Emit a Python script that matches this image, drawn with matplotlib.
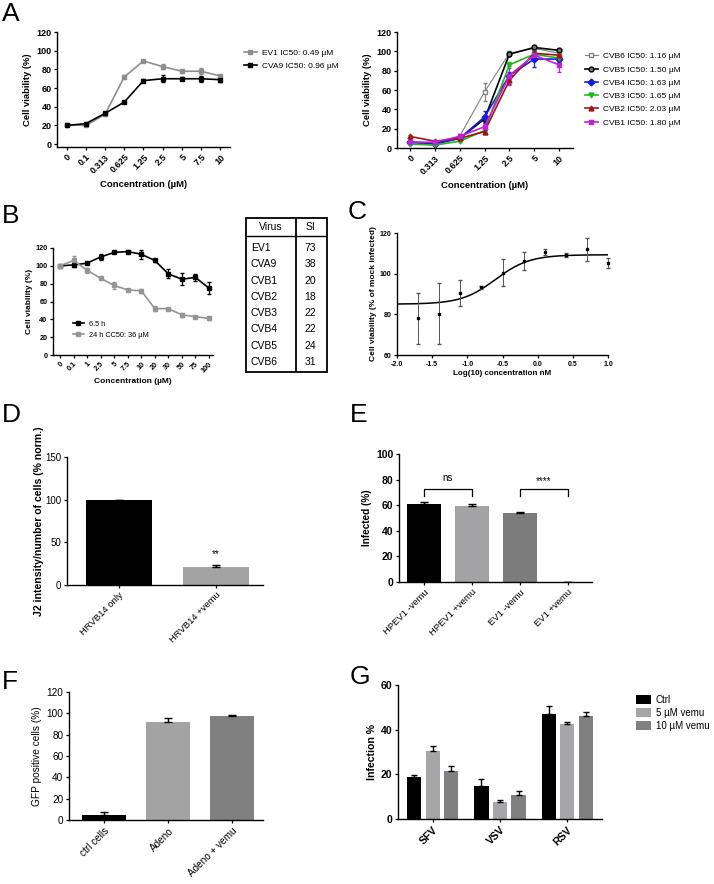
import numpy as np
import matplotlib
matplotlib.use("Agg")
import matplotlib.pyplot as plt
from matplotlib.lines import Line2D

plt.rcParams['font.family'] = ['Liberation Sans', 'DejaVu Sans']
plt.rcParams['axes.unicode_minus'] = False
plt.rcParams['axes.linewidth'] = 1.0

# ---- A (left): EV1 / CVA9
conc_a1 = ['0', '0.1', '0.313', '0.625', '1.25', '2.5', '5', '7.5', '10']
ev1 = [21, 20, 32, 72, 89, 83, 78, 78, 73]
ev1_err = [1, 1, 1.5, 2, 1, 3, 1.5, 3, 1.5]
cva9 = [20, 22, 33, 45, 68, 70, 70, 70, 69]
cva9_err = [1, 1, 1, 1, 1.5, 4, 1.5, 3, 3]

# ---- A (right): CVB1-6
conc_a2 = ['0', '0.313', '0.625', '1.25', '2.5', '5', '10']
cvb6 = [6, 5, 12, 58, 98, 103, 98]
cvb6_err = [1, 1, 1, 9, 2, 1, 2]
cvb5 = [6, 5, 10, 30, 97, 104, 101]
cvb5_err = [1, 1, 1, 3, 2, 1, 1]
cvb4 = [6, 4, 10, 32, 75, 92, 92]
cvb4_err = [1, 1, 1, 6, 4, 8, 3]
cvb3 = [4, 3, 7, 18, 86, 97, 93]
cvb3_err = [1, 1, 1, 2, 3, 1, 2]
cvb2 = [12, 7, 10, 17, 70, 98, 96]
cvb2_err = [1, 1, 1, 2, 4, 1, 2]
cvb1 = [6, 6, 12, 22, 75, 96, 86]
cvb1_err = [1, 1, 2, 3, 10, 3, 7]
cvb_labels = ['CVB6 IC50: 1.16 µM', 'CVB5 IC50: 1.50 µM', 'CVB4 IC50: 1.63 µM',
              'CVB3 IC50: 1.65 µM', 'CVB2 IC50: 2.03 µM', 'CVB1 IC50: 1.80 µM']

# ---- B: toxicity
conc_b = ['0', '0.1', '1', '2.5', '5', '7.5', '10', '20', '30', '50', '75', '100']
h65 = [100, 101, 103, 110, 115, 116, 113, 106, 91, 85, 87, 75]
h65_err = [1, 2, 1, 3, 1, 2, 5, 2, 5, 7, 4, 7]
h24 = [100, 106, 95, 86, 78, 73, 72, 52, 52, 45, 43, 41]
h24_err = [1, 5, 3, 1, 4, 1, 2, 3, 1, 2, 1, 2]

si_virus = ['EV1', 'CVA9', 'CVB1', 'CVB2', 'CVB3', 'CVB4', 'CVB5', 'CVB6']
si_value = [73, 38, 20, 18, 22, 22, 24, 31]

# ---- C: dose response
log_conc = [-1.7, -1.4, -1.1, -0.8, -0.5, -0.2, 0.1, 0.4, 0.7, 1.0]
viab_c = [78, 80.4, 90.5, 93.2, 100.4, 106.3, 110.7, 109.2, 112, 105.2]
viab_c_err = [12.7, 15, 6.2, 0.6, 6.6, 4.4, 1.5, 1.2, 5.7, 2.3]
fit_bottom, fit_top, fit_logec50, fit_hill = 85.0, 109.3, -0.6, 1.8

# ---- D
d_labels = ['HRVB14 only', 'HRVB14 +vemu']
d_vals = [100, 21]
d_err = [0, 3]

# ---- E
e_labels = ['HPEV1 -vemu', 'HPEV1 +vemu', 'EV1 -vemu', 'EV1 +vemu']
e_vals = [60.7, 59.6, 54.2, 0]
e_err = [1.5, 1.4, 0.5, 0]

# ---- F
f_labels = ['ctrl cells', 'Adeno', 'Adeno + vemu']
f_vals = [4.5, 91.5, 97.8]
f_err = [3, 4.4, 0.5]

# ---- G
g_groups = ['SFV', 'VSV', 'RSV']
g_series = ['Ctrl', '5 µM vemu', '10 µM vemu']
g_ctrl = [18.6, 14.7, 47.2]
g_ctrl_err = [1, 3, 3.2]
g_5 = [30.5, 7.8, 42.6]
g_5_err = [2.3, 0.9, 0.9]
g_10 = [21.7, 10.8, 45.9]
g_10_err = [1.9, 1.7, 2.2]

W, H = 714, 884
fig = plt.figure(figsize=(W / 100, H / 100), dpi=100)


def box(x0, x1, ytop, ybot):
    return fig.add_axes([x0 / W, 1 - ybot / H, (x1 - x0) / W, (ybot - ytop) / H])


def style(ax, size=6.5, bold=True):
    for s in ['top', 'right']:
        ax.spines[s].set_visible(False)
    ax.tick_params(direction='out', length=2.5, width=0.9, labelsize=size, pad=1.5)
    if bold:
        for t in ax.get_yticklabels():
            t.set_fontweight('bold')


def rot_labels(ax, labels, size=6.5, bold=True):
    ax.set_xticks(range(len(labels)))
    ax.set_xticklabels(labels, rotation=45, ha='right', rotation_mode='anchor',
                       fontsize=size, fontweight='bold' if bold else 'normal')


def letter(x, y, s):
    fig.text(x / W, 1 - y / H, s, fontsize=19, va='center', ha='left')


def handle(c, m, fc=None):
    return Line2D([], [], color=c, marker=m, mfc=fc or c, mec=c, ms=3.5, lw=1.2)


# ===== A left
ax = box(57, 230, 32, 147)
x = np.arange(len(conc_a1))
ax.errorbar(x, ev1, yerr=ev1_err, color='#8e8e8e', marker='s', ms=3.5, lw=1.2,
            capsize=1.5, elinewidth=0.9)
ax.errorbar(x, cva9, yerr=cva9_err, color='black', marker='s', ms=3.5, lw=1.2,
            capsize=1.5, elinewidth=0.9)
ax.set_xlim(-0.5, 8.5)
ax.set_ylim(-3, 120)
ax.set_yticks(range(0, 121, 20))
style(ax)
rot_labels(ax, conc_a1)
ax.set_xlabel('Concentration (µM)', labelpad=4, fontsize=6.8, fontweight='bold')
ax.set_ylabel('Cell viability (%)', labelpad=3, fontsize=6.8, fontweight='bold')
ax.legend([handle('#8e8e8e', 's'), handle('black', 's')],
          ['EV1 IC50: 0.49 µM', 'CVA9 IC50: 0.96 µM'],
          loc='upper left', bbox_to_anchor=(236 / W, 1 - 42 / H),
          bbox_transform=fig.transFigure, frameon=False, fontsize=6,
          handlelength=1.6, handletextpad=0.6, labelspacing=0.6)

# ===== A right
ax = box(397, 573, 32, 148)
x = np.arange(len(conc_a2))
specs = [
    (cvb6, cvb6_err, '#808080', 's', 'white', 0.8),
    (cvb5, cvb5_err, 'black', 'o', '#777777', 1.2),
    (cvb4, cvb4_err, '#1a1ae0', 'D', '#1a1ae0', 1.2),
    (cvb3, cvb3_err, '#22b522', 'v', '#22b522', 1.2),
    (cvb2, cvb2_err, '#a01414', '^', '#a01414', 1.2),
    (cvb1, cvb1_err, '#c21fdc', 's', '#c21fdc', 1.2),
]
hs = []
for vals, err, c, m, fc, lw in specs:
    ax.errorbar(x, vals, yerr=err, color=c, marker=m, mfc=fc, mec=c, ms=3.5,
                lw=lw, capsize=1.5, elinewidth=0.9)
    h = handle(c, m, fc)
    h.set_linewidth(lw)
    hs.append(h)
ax.set_xlim(-0.52, 6.56)
ax.set_ylim(0, 120)
ax.set_yticks(range(0, 121, 20))
style(ax)
rot_labels(ax, conc_a2)
ax.set_xlabel('Concentration (µM)', labelpad=4, fontsize=6.8, fontweight='bold')
ax.set_ylabel('Cell viability (%)', labelpad=3, fontsize=6.8, fontweight='bold')
ax.legend(hs, cvb_labels, loc='upper left', bbox_to_anchor=(577 / W, 1 - 45 / H),
          bbox_transform=fig.transFigure, frameon=False, fontsize=6,
          handlelength=1.6, handletextpad=0.6, labelspacing=0.65)

# ===== B
ax = box(53, 213, 248, 355)
x = np.arange(len(conc_b))
ax.errorbar(x, h65, yerr=h65_err, color='black', marker='s', ms=3, lw=1.2,
            capsize=1.5, elinewidth=0.9)
ax.errorbar(x, h24, yerr=h24_err, color='#959595', marker='s', ms=3, lw=1.2,
            capsize=1.5, elinewidth=0.9)
ax.set_xlim(-0.52, 11.3)
ax.set_ylim(0, 120)
ax.set_yticks(range(0, 121, 20))
style(ax, size=5.2)
rot_labels(ax, conc_b, size=5.2)
ax.set_xlabel('Concentration (µM)', labelpad=3, fontsize=6, fontweight='bold')
ax.set_ylabel('Cell viability (%)', labelpad=2, fontsize=6, fontweight='bold')
ax.legend([handle('black', 's'), handle('#959595', 's')], ['6.5 h', '24 h CC50: 36 µM'],
          loc='upper left', bbox_to_anchor=(66 / W, 1 - 314 / H),
          bbox_transform=fig.transFigure, frameon=False, fontsize=5.3,
          handlelength=1.5, handletextpad=0.7, labelspacing=0.5)

# table of SI values
tb = box(246, 327, 218, 372)
tb.set_xlim(0, 1)
tb.set_ylim(0, 1)
tb.axis('off')
tb.add_patch(plt.Rectangle((0, 0), 1, 1, fill=False, lw=1.3, transform=tb.transAxes, clip_on=False))
tb.plot([0.617, 0.617], [0, 1], color='black', lw=1.3)
tb.plot([0, 1], [0.883, 0.883], color='black', lw=1.0)
tb.text(0.30, 0.942, 'Virus', fontsize=7.5, ha='center', va='center')
tb.text(0.79, 0.942, 'SI', fontsize=7.5, ha='center', va='center')
rows_y = np.linspace(0.805, 0.065, len(si_virus))
for yy, v, s in zip(rows_y, si_virus, si_value):
    tb.text(0.06, yy, v, fontsize=7.5, ha='left', va='center')
    tb.text(0.79, yy, str(s), fontsize=7.5, ha='center', va='center')

# ===== C
ax = box(397, 608, 233, 355)
xx = np.linspace(-2, 1, 300)
ax.plot(xx, fit_bottom + (fit_top - fit_bottom) / (1 + 10 ** ((fit_logec50 - xx) * fit_hill)),
        color='black', lw=1.1)
eb = ax.errorbar(log_conc, viab_c, yerr=viab_c_err, fmt='s', color='black', ms=1.5,
                 ecolor='#555555', elinewidth=0.7, capsize=1.5)
for art in eb.get_children():
    art.set_clip_on(False)
ax.set_xlim(-2, 1)
ax.set_ylim(60, 120)
ax.set_xticks(np.arange(-2, 1.01, 0.5))
ax.set_xticklabels(['%.1f' % v for v in np.arange(-2, 1.01, 0.5)], fontweight='bold')
ax.set_yticks([60, 80, 100, 120])
style(ax, size=5)
ax.set_xlabel('Log(10) concentration nM', labelpad=2, fontsize=5.8, fontweight='bold')
ax.set_ylabel('Cell viability (% of mock infected)', labelpad=2, fontsize=6, fontweight='bold')

# ===== D
ax = box(67, 263, 457, 585)
x = np.arange(len(d_vals))
ax.bar(x, d_vals, width=0.68, color=['black', '#a3a3a3'],
       yerr=[[0] * len(d_vals), d_err], capsize=3, error_kw=dict(elinewidth=1, capthick=1))
ax.text(1, 36, '**', ha='center', va='center', fontsize=7)
ax.set_xlim(-0.54, 1.49)
ax.set_ylim(0, 150)
ax.set_yticks([0, 50, 100, 150])
style(ax, size=7, bold=False)
rot_labels(ax, d_labels, size=6.8, bold=False)
ax.set_ylabel('J2 intensity/number of cells (% norm.)', labelpad=1, fontsize=7.6, fontweight='bold')

# ===== E
ax = box(399, 592, 454, 582)
x = np.arange(len(e_vals))
ax.bar(x, e_vals, width=0.70, color=['black', '#a3a3a6', '#7c7c7c', '#7c7c7c'],
       yerr=[[0] * len(e_vals), e_err], capsize=3, error_kw=dict(elinewidth=1, capthick=1))
for (a, b), s, ty in [((0, 1), 'ns', 81), ((2, 3), '****', 79)]:
    ax.plot([a, a, b, b], [67.5, 73, 73, 67.5], color='black', lw=0.9)
    ax.text((a + b) / 2, ty, s, ha='center', va='center', fontsize=7)
ax.set_xlim(-0.52, 3.5)
ax.set_ylim(0, 100)
ax.set_yticks(range(0, 101, 20))
style(ax, size=7.5)
rot_labels(ax, e_labels, size=6.8, bold=False)
ax.set_ylabel('Infected (%)', labelpad=3, fontsize=7.2, fontweight='bold')

# ===== F
ax = box(69, 263, 692, 820)
x = np.arange(len(f_vals))
ax.bar(x, f_vals, width=0.69, color=['black', '#a3a3a3', '#808080'],
       yerr=[[0] * len(f_vals), f_err], capsize=3, error_kw=dict(elinewidth=1, capthick=1))
ax.set_xlim(-0.55, 2.48)
ax.set_ylim(0, 120)
ax.set_yticks(range(0, 121, 20))
style(ax, size=7.2, bold=False)
rot_labels(ax, f_labels, size=7.2, bold=False)
ax.set_ylabel('GFP positive cells (%)', labelpad=3, fontsize=7.3)

# ===== G
ax = box(398, 602, 685, 819)
x = np.arange(len(g_groups))
g_cols = ['black', '#a6a6a8', '#808080']
for k, (vals, err, c, nm) in enumerate(zip([g_ctrl, g_5, g_10], [g_ctrl_err, g_5_err, g_10_err],
                                           g_cols, g_series)):
    ax.bar(x + (k - 1) * 0.276, vals, width=0.21, color=c, label=nm,
           yerr=[[0] * len(vals), err], capsize=2.5, error_kw=dict(elinewidth=1, capthick=1))
ax.set_xlim(-0.52, 2.52)
ax.set_ylim(0, 60)
ax.set_yticks([0, 20, 40, 60])
style(ax, size=7.6)
rot_labels(ax, g_groups, size=7.6)
ax.set_ylabel('Infection %', labelpad=3, fontsize=7.6, fontweight='bold')
ax.legend(loc='upper left', bbox_to_anchor=(627 / W, 1 - 686 / H),
          bbox_transform=fig.transFigure, frameon=False, fontsize=7,
          handlelength=1.6, handleheight=1.0, handletextpad=0.45, labelspacing=0.3,
          borderpad=0.4)

# panel letters
letter(2, 14, 'A')
letter(2, 216, 'B')
letter(348, 212, 'C')
letter(2, 415, 'D')
letter(350, 415, 'E')
letter(2, 682, 'F')
letter(350, 677, 'G')

fig.savefig('out.png', dpi=100)
